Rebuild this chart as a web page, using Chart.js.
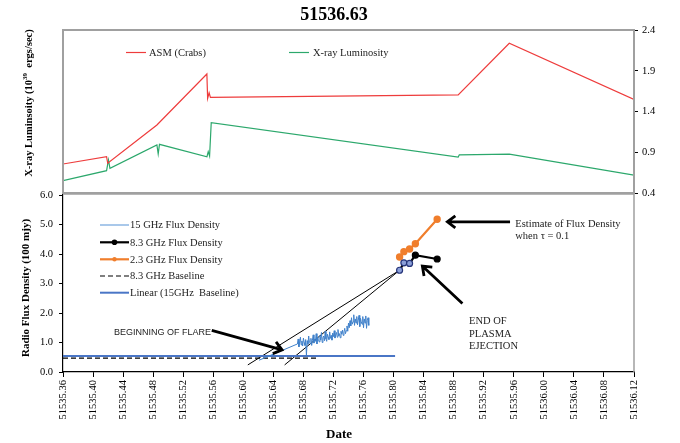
<!DOCTYPE html>
<html>
<head>
<meta charset="utf-8">
<script src="https://cdn.jsdelivr.net/npm/chart.js@4.4.1/dist/chart.umd.min.js"></script>
<style>
  html, body { margin: 0; padding: 0; background: #fff; }
  body { width: 680px; height: 443px; position: relative; overflow: hidden; }
  canvas { position: absolute; left: 0; }
  #chartTop { top: 0; }
  #chartBottom { top: 180px; }
</style>
</head>
<body>
<canvas id="chartTop" width="680" height="200"></canvas>
<canvas id="chartBottom" width="680" height="263"></canvas>
<script>
// ---- data ----
const xMin = 51535.36, xMax = 51536.12;
const xTicks = [51535.36, 51535.40, 51535.44, 51535.48, 51535.52, 51535.56, 51535.60, 51535.64, 51535.68, 51535.72,
                51535.76, 51535.80, 51535.84, 51535.88, 51535.92, 51535.96, 51536.00, 51536.04, 51536.08, 51536.12];
const lumTicks = [0.4, 0.9, 1.4, 1.9, 2.4];
const fluxTicks = [0, 1, 2, 3, 4, 5, 6];

// top panel
const asmDates = [51535.36, 51535.418, 51535.4195, 51535.485, 51535.5515, 51535.5525, 51535.5545, 51535.5562, 51535.886, 51535.954, 51536.12];
const asmCrabs = [0.756, 0.845, 0.765, 1.234, 1.86, 1.56, 1.63, 1.574, 1.604, 2.237, 1.547];
const lumDates = [51535.36, 51535.418, 51535.4205, 51535.4225, 51535.485, 51535.4867, 51535.4884, 51535.5516, 51535.5533, 51535.5551, 51535.5573, 51535.886, 51535.8875, 51535.954, 51536.12];
const lumValues = [0.551, 0.674, 0.805, 0.703, 0.989, 0.879, 0.997, 0.845, 0.907, 0.854, 1.263, 0.841, 0.869, 0.878, 0.62];

// bottom panel
const radio15Dates = [51535.621,
  51535.672, 51535.673, 51535.674, 51535.675, 51535.676, 51535.677, 51535.678, 51535.679, 51535.680, 51535.681,
  51535.682, 51535.683, 51535.684, 51535.685, 51535.686, 51535.687, 51535.688, 51535.689, 51535.690, 51535.691,
  51535.692, 51535.693, 51535.694, 51535.695, 51535.696, 51535.697, 51535.698, 51535.699, 51535.700, 51535.701,
  51535.702, 51535.703, 51535.704, 51535.705, 51535.706, 51535.707, 51535.708, 51535.709, 51535.710, 51535.711,
  51535.712, 51535.713, 51535.714, 51535.715, 51535.716, 51535.717, 51535.718, 51535.719, 51535.720, 51535.721,
  51535.722, 51535.723, 51535.724, 51535.725, 51535.726, 51535.727, 51535.728, 51535.729, 51535.730, 51535.731,
  51535.732, 51535.733, 51535.734, 51535.735, 51535.736, 51535.737, 51535.738, 51535.739, 51535.740, 51535.741,
  51535.742, 51535.743, 51535.744, 51535.745, 51535.746, 51535.747, 51535.748, 51535.749, 51535.750, 51535.751,
  51535.752, 51535.753, 51535.754, 51535.755, 51535.756, 51535.757, 51535.758, 51535.759, 51535.760, 51535.761,
  51535.762, 51535.763, 51535.764, 51535.765, 51535.766, 51535.767];
const radio15Flux = [0.40,
  0.95, 1.12, 0.85, 1.02, 1.18, 0.92, 1.05, 0.88, 1.15, 1.00,
  0.90, 1.10, 0.56, 1.06, 0.94, 1.22, 1.00, 0.96, 1.14, 0.90,
  1.08, 1.26, 0.98, 1.12, 1.04, 1.30, 0.95, 1.18, 1.10, 1.02,
  1.24, 1.08, 1.34, 1.00, 1.16, 1.22, 1.06, 1.38, 1.12, 1.04,
  1.28, 1.18, 1.10, 1.36, 1.14, 1.24, 1.08, 1.32, 1.20, 1.40,
  1.15, 1.26, 1.34, 1.18, 1.44, 1.22, 1.30, 1.16, 1.38, 1.28,
  1.42, 1.24, 1.36, 1.48, 1.30, 1.40, 1.56, 1.38, 1.66, 1.50,
  1.74, 1.56, 1.84, 1.62, 1.70, 1.94, 1.58, 1.80, 1.66, 1.88,
  1.60, 1.76, 1.92, 1.54, 1.82, 1.70, 1.62, 1.88, 1.50, 1.80,
  1.66, 1.90, 1.48, 1.74, 1.84, 1.58];
const radioDates = [51535.808, 51535.8137, 51535.8213, 51535.829, 51535.858];
const flux83 = [3.45, 3.70, 3.68, 3.96, 3.83];
const flux23 = [3.90, 4.08, 4.17, 4.35, 5.18];
const base83Dates = [51535.36, 51535.70];
const base83Flux = [0.47, 0.47];
const linBaseDates = [51535.36, 51535.802];
const linBaseFlux = [0.54, 0.54];
const tangentADates = [51535.606, 51535.808];
const tangentAFlux = [0.24, 3.45];
const tangentBDates = [51535.655, 51535.808];
const tangentBFlux = [0.24, 3.45];

// annotation arrows [fromDate, fromFlux, toDate, toFlux]
const arrows = [
  [51535.558, 1.41, 51535.6516, 0.75],
  [51535.955, 5.09, 51535.8716, 5.09],
  [51535.8916, 2.32, 51535.8383, 3.59]
];

const serif = '"Liberation Serif", "Times New Roman", serif';
const sans = '"Liberation Sans", Arial, sans-serif';

function pts(xs, ys) {
  return xs.map((x, i) => ({ x: x, y: ys[i] }));
}

function drawArrow(ctx, x1, y1, x2, y2) {
  const a = Math.atan2(y1 - y2, x1 - x2);
  const len = 10, spread = 0.65;
  ctx.beginPath();
  ctx.moveTo(x1, y1);
  ctx.lineTo(x2, y2);
  ctx.moveTo(x2 + len * Math.cos(a - spread), y2 + len * Math.sin(a - spread));
  ctx.lineTo(x2, y2);
  ctx.lineTo(x2 + len * Math.cos(a + spread), y2 + len * Math.sin(a + spread));
  ctx.stroke();
}

function legendLine(ctx, x, y, w, color, width, dash) {
  ctx.save();
  ctx.strokeStyle = color;
  ctx.lineWidth = width;
  ctx.setLineDash(dash || []);
  ctx.beginPath();
  ctx.moveTo(x, y);
  ctx.lineTo(x + w, y);
  ctx.stroke();
  ctx.restore();
}

// ---- top chart ----
const topDecor = {
  id: 'topDecor',
  afterDraw(chart) {
    const ctx = chart.ctx, a = chart.chartArea;
    ctx.save();
    // frame
    ctx.strokeStyle = '#a0a0a0';
    ctx.lineWidth = 2;
    ctx.strokeRect(a.left, a.top, a.right - a.left, a.bottom - a.top);
    // title
    ctx.fillStyle = '#000';
    ctx.font = 'bold 18px ' + serif;
    ctx.textAlign = 'center';
    ctx.textBaseline = 'middle';
    ctx.fillText('51536.63', 334, 15);
    // y title with superscript
    ctx.translate(29, 103);
    ctx.rotate(-Math.PI / 2);
    const p1 = 'X-ray Luminsoity (10', sup = '39', p2 = '  ergs/sec)';
    ctx.font = 'bold 10.5px ' + serif;
    const w1 = ctx.measureText(p1).width, w3 = ctx.measureText(p2).width;
    ctx.font = 'bold 7px ' + serif;
    const w2 = ctx.measureText(sup).width;
    let x = -(w1 + w2 + w3) / 2;
    ctx.textAlign = 'left';
    ctx.font = 'bold 10.5px ' + serif;
    ctx.fillText(p1, x, 0);
    ctx.font = 'bold 7px ' + serif;
    ctx.fillText(sup, x + w1, -4);
    ctx.font = 'bold 10.5px ' + serif;
    ctx.fillText(p2, x + w1 + w2, 0);
    ctx.restore();

    // legend
    ctx.save();
    ctx.font = '10.5px ' + serif;
    ctx.fillStyle = '#222';
    ctx.textBaseline = 'middle';
    legendLine(ctx, 126, 52.5, 20, chart.data.datasets[0].borderColor, 1.2);
    ctx.fillText('ASM (Crabs)', 149, 53);
    legendLine(ctx, 289, 52.5, 20, chart.data.datasets[1].borderColor, 1.2);
    ctx.fillText('X-ray Luminosity', 313, 53);
    ctx.restore();
  }
};

new Chart(document.getElementById('chartTop'), {
  type: 'line',
  data: {
    datasets: [{
      label: 'ASM (Crabs)',
      data: pts(asmDates, asmCrabs),
      borderColor: '#ee3c3c',
      borderWidth: 1.2,
      pointRadius: 0,
      tension: 0
    }, {
      label: 'X-ray Luminosity',
      data: pts(lumDates, lumValues),
      borderColor: '#2ca86c',
      borderWidth: 1.2,
      pointRadius: 0,
      tension: 0
    }]
  },
  options: {
    responsive: false,
    animation: false,
    devicePixelRatio: 1,
    layout: { padding: { top: 30, bottom: 7, left: 63, right: 0 } },
    plugins: { legend: { display: false }, tooltip: { enabled: false } },
    scales: {
      x: { type: 'linear', min: xMin, max: xMax, display: false },
      y: {
        position: 'right',
        min: 0.4, max: 2.4,
        afterBuildTicks: s => { s.ticks = lumTicks.map(v => ({ value: v })); },
        afterFit: s => { s.width = 46; s.paddingTop = 0; s.paddingBottom = 0; },
        ticks: {
          callback: v => v.toFixed(1),
          color: '#000',
          padding: 4,
          font: { family: serif, size: 10.5 }
        },
        grid: { drawOnChartArea: false, tickLength: 4, color: '#000' },
        border: { display: false }
      }
    }
  },
  plugins: [topDecor]
});

// ---- bottom chart ----
const bottomDecor = {
  id: 'bottomDecor',
  afterDatasetsDraw(chart) {
    const ctx = chart.ctx, xs = chart.scales.x, ys = chart.scales.y;
    ctx.save();
    ctx.strokeStyle = '#000';
    ctx.lineWidth = 2.8;
    ctx.lineCap = 'butt';
    ctx.lineJoin = 'miter';
    arrows.forEach(r => drawArrow(ctx,
      xs.getPixelForValue(r[0]), ys.getPixelForValue(r[1]),
      xs.getPixelForValue(r[2]), ys.getPixelForValue(r[3])));
    ctx.restore();
  },
  afterDraw(chart) {
    const ctx = chart.ctx, a = chart.chartArea, xs = chart.scales.x, ys = chart.scales.y;
    ctx.save();
    // gray top / right frame
    ctx.strokeStyle = '#a0a0a0';
    ctx.lineWidth = 1.5;
    ctx.beginPath();
    ctx.moveTo(a.left, a.top - 1);
    ctx.lineTo(a.right, a.top - 1);
    ctx.lineTo(a.right, a.bottom);
    ctx.stroke();

    // annotations
    ctx.fillStyle = '#222';
    ctx.textAlign = 'left';
    ctx.textBaseline = 'middle';
    ctx.font = '9px ' + sans;
    ctx.fillText('BEGINNING OF FLARE', xs.getPixelForValue(51535.428), ys.getPixelForValue(1.33));
    ctx.font = '10.5px ' + serif;
    ctx.fillText('Estimate of Flux Density', xs.getPixelForValue(51535.962), ys.getPixelForValue(5.01));
    ctx.fillText('when \u03C4 = 0.1', xs.getPixelForValue(51535.962), ys.getPixelForValue(4.59));
    ctx.fillText('END OF', xs.getPixelForValue(51535.9004), ys.getPixelForValue(1.715));
    ctx.fillText('PLASMA', xs.getPixelForValue(51535.9004), ys.getPixelForValue(1.295));
    ctx.fillText('EJECTION', xs.getPixelForValue(51535.9004), ys.getPixelForValue(0.863));

    // axis titles
    ctx.fillStyle = '#000';
    ctx.font = 'bold 13px ' + serif;
    ctx.textAlign = 'center';
    ctx.fillText('Date', 339, 255);
    ctx.save();
    ctx.translate(26, 108);
    ctx.rotate(-Math.PI / 2);
    ctx.font = 'bold 11px ' + serif;
    ctx.fillText('Radio Flux Density (100 mjy)', 0, 0);
    ctx.restore();

    // legend
    const ds = chart.data.datasets;
    const rows = [45, 62.3, 79.3, 96, 112.7];
    ctx.font = '10.5px ' + serif;
    ctx.fillStyle = '#222';
    ctx.textAlign = 'left';
    legendLine(ctx, 100, rows[0], 29, '#6fa3dc', 1.2);
    legendLine(ctx, 100, rows[1], 29, '#000', 2.2);
    ctx.beginPath(); ctx.arc(114.5, rows[1], 2.8, 0, Math.PI * 2); ctx.fillStyle = '#000'; ctx.fill();
    legendLine(ctx, 100, rows[2], 29, ds[4].borderColor, 2.2);
    ctx.beginPath(); ctx.arc(114.5, rows[2], 2.2, 0, Math.PI * 2); ctx.fillStyle = ds[4].borderColor; ctx.fill();
    legendLine(ctx, 100, rows[3], 29, '#000', 1.2, [5, 3]);
    legendLine(ctx, 100, rows[4], 29, ds[1].borderColor, 2);
    ctx.fillStyle = '#222';
    ctx.fillText('15 GHz Flux Density', 130, rows[0] + 0.5);
    ctx.fillText('8.3 GHz Flux Density', 130, rows[1] + 0.5);
    ctx.fillText('2.3 GHz Flux Density', 130, rows[2] + 0.5);
    ctx.fillText('8.3 GHz Baseline', 130, rows[3] + 0.5);
    ctx.fillText('Linear (15GHz  Baseline)', 130, rows[4] + 0.5);
    ctx.restore();
  }
};

new Chart(document.getElementById('chartBottom'), {
  type: 'line',
  data: {
    datasets: [{
      label: '15 GHz Flux Density',
      data: pts(radio15Dates, radio15Flux),
      borderColor: '#3f80ca',
      borderWidth: 1,
      pointRadius: 0,
      tension: 0
    }, {
      label: 'Linear (15GHz  Baseline)',
      data: pts(linBaseDates, linBaseFlux),
      borderColor: '#4a76c6',
      borderWidth: 2,
      pointRadius: 0
    }, {
      label: '8.3 GHz Baseline',
      data: pts(base83Dates, base83Flux),
      borderColor: '#000',
      borderWidth: 1.2,
      borderDash: [5, 3],
      pointRadius: 0
    }, {
      label: '8.3 GHz Flux Density',
      data: pts(radioDates, flux83),
      borderColor: '#000',
      borderWidth: 2.2,
      pointRadius: 3,
      pointBorderWidth: 1.2,
      pointBackgroundColor: c => c.dataIndex < 3 ? '#8b9fd8' : '#000',
      pointBorderColor: c => c.dataIndex < 3 ? '#26357a' : '#000'
    }, {
      label: '2.3 GHz Flux Density',
      data: pts(radioDates, flux23),
      borderColor: '#f07e2c',
      backgroundColor: '#f07e2c',
      borderWidth: 2.2,
      pointRadius: 2.6,
      pointBackgroundColor: '#f07e2c',
      pointBorderColor: '#f07e2c'
    }, {
      label: 'tangent A',
      data: pts(tangentADates, tangentAFlux),
      borderColor: '#000',
      borderWidth: 1,
      pointRadius: 0
    }, {
      label: 'tangent B',
      data: pts(tangentBDates, tangentBFlux),
      borderColor: '#000',
      borderWidth: 1,
      pointRadius: 0
    }]
  },
  options: {
    responsive: false,
    animation: false,
    devicePixelRatio: 1,
    layout: { padding: { top: 15, bottom: 0, left: 0, right: 46 } },
    plugins: { legend: { display: false }, tooltip: { enabled: false } },
    scales: {
      x: {
        type: 'linear',
        min: xMin, max: xMax,
        afterBuildTicks: s => { s.ticks = xTicks.map(v => ({ value: v })); },
        afterFit: s => { s.height = 71; s.paddingLeft = 0; s.paddingRight = 0; },
        ticks: {
          callback: v => v.toFixed(2),
          minRotation: 90, maxRotation: 90,
          autoSkip: false,
          color: '#000',
          padding: 3,
          font: { family: serif, size: 10.5 }
        },
        grid: { drawOnChartArea: false, tickLength: 5, color: '#000' },
        border: { color: '#000', width: 1.2 }
      },
      y: {
        min: 0, max: 6,
        afterBuildTicks: s => { s.ticks = fluxTicks.map(v => ({ value: v })); },
        afterFit: s => { s.width = 63; s.paddingTop = 0; s.paddingBottom = 0; },
        ticks: {
          callback: v => v.toFixed(1),
          color: '#000',
          padding: 6,
          font: { family: serif, size: 10.5 }
        },
        grid: { drawOnChartArea: false, tickLength: 4, color: '#000' },
        border: { color: '#000', width: 1.2 }
      }
    }
  },
  plugins: [bottomDecor]
});
</script>
</body>
</html>
